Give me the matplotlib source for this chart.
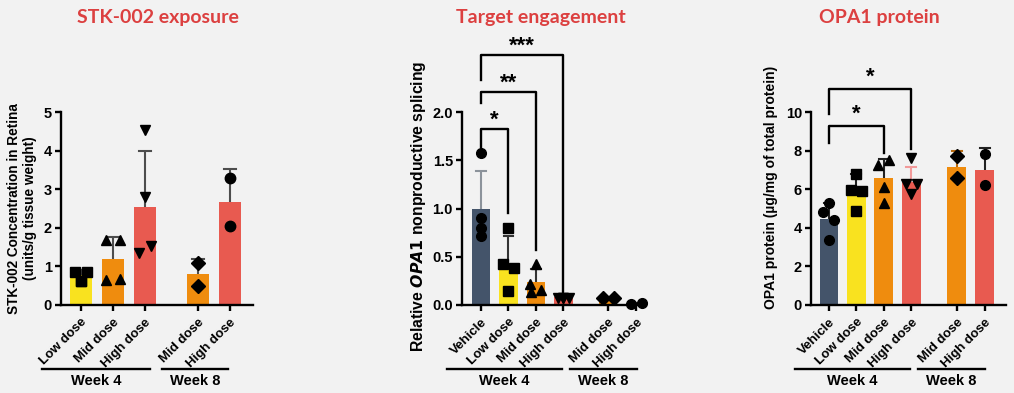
import matplotlib.pyplot as plt
import matplotlib.transforms as mtransforms
import numpy as np

# ---- data: STK-002 exposure ----
exp_labels = ["Low dose", "Mid dose", "High dose", "Mid dose", "High dose"]
exp_mean = [0.78, 1.18, 2.53, 0.80, 2.66]
exp_err_top = [0.90, 1.77, 3.99, 1.19, 3.52]
exp_points = [
    [0.86, 0.62, 0.86, 0.62],
    [1.68, 1.68, 0.66, 0.68],
    [4.54, 2.80, 1.36, 1.53],
    [1.08, 0.49],
    [3.28, 2.05],
]

# ---- data: target engagement ----
te_labels = ["Vehicle", "Low dose", "Mid dose", "High dose", "Mid dose", "High dose"]
te_mean = [1.00, 0.44, 0.24, 0.08, 0.07, 0.015]
te_err_top = [1.39, 0.71, 0.37, 0.09, 0.08, 0.02]
te_points = [
    [1.58, 0.90, 0.80, 0.72],
    [0.80, 0.42, 0.38, 0.15],
    [0.42, 0.22, 0.13, 0.16],
    [0.075, 0.07, 0.07, 0.075],
    [0.07, 0.07],
    [0.01, 0.02],
]

# ---- data: OPA1 protein ----
op_labels = ["Vehicle", "Low dose", "Mid dose", "High dose", "Mid dose", "High dose"]
op_mean = [4.47, 6.13, 6.56, 6.36, 7.16, 7.01]
op_err_top = [5.29, 6.80, 7.56, 7.16, 7.99, 8.13]
op_points = [
    [4.81, 5.27, 4.42, 3.35],
    [5.96, 6.79, 5.89, 4.86],
    [7.27, 7.53, 6.10, 5.27],
    [7.60, 6.27, 6.27, 5.76],
    [7.73, 6.58],
    [7.82, 6.24],
]

BG = "#f2f2f2"
NAVY = "#44546a"
YEL = "#f9e21f"
ORA = "#ef8c0e"
RED = "#e85a50"
TITLE_C = "#dc4040"

plt.rcParams["font.family"] = ["Liberation Sans", "DejaVu Sans"]
plt.rcParams["font.weight"] = "bold"


def draw_panel(ax, pos, means, err_top, points, colors, markers, offsets,
               err_colors, ms):
    ax.bar(pos, means, width=0.68, color=colors, zorder=2)
    for x, m, e, ec in zip(pos, means, err_top, err_colors):
        ax.plot([x, x], [m, e], color=ec, lw=1.5, zorder=2.5,
                solid_capstyle="butt")
        ax.plot([x - 0.18, x + 0.18], [e, e], color=ec, lw=1.5, zorder=2.5)
    for x, pts, mk, offs in zip(pos, points, markers, offsets):
        xs = [x + o for o in offs[:len(pts)]]
        ax.plot(xs, pts, ls="none", marker=mk, color="black", ms=ms,
                zorder=3, clip_on=False)
    ax.set_facecolor(BG)
    for s in ["top", "right"]:
        ax.spines[s].set_visible(False)
    for s in ["left", "bottom"]:
        ax.spines[s].set_linewidth(1.7)
    ax.tick_params(axis="both", width=1.7, length=4.5, labelsize=10.5)
    ax.tick_params(axis="y", pad=2)
    ax.set_xticks(pos)


def draw_groups(fig, ax, spans, names):
    tr = mtransforms.blended_transform_factory(ax.transData, fig.transFigure)
    for (a, b), name in zip(spans, names):
        ax.plot([a, b], [0.061, 0.061], color="black", lw=1.7,
                transform=tr, clip_on=False)
        ax.text((a + b) / 2, 0.030, name, transform=tr, ha="center",
                va="center", fontsize=10.5, fontweight="bold")


def bracket(ax, x1, x2, ytop, yl, yr, stars, sy):
    ax.plot([x1, x1, x2, x2], [yl, ytop, ytop, yr], color="black", lw=1.7,
            clip_on=False)
    ax.text((x1 + x2) / 2, sy, stars, ha="center", va="center",
            fontsize=16, fontweight="bold", clip_on=False)


fig = plt.figure(figsize=(10.14, 3.93), dpi=100, facecolor=BG)
W, H = 1014, 393

# ---------------- panel 1 ----------------
ax1 = fig.add_axes([61 / W, 88 / H, 192 / W, 193 / H])
pos1 = [0, 1, 2, 3.65, 4.65]
draw_panel(ax1, pos1, exp_mean, exp_err_top, exp_points,
           [YEL, ORA, RED, ORA, RED], ["s", "^", "v", "D", "o"],
           [[-0.2, 0, 0.2, 0], [-0.22, 0.22, -0.22, 0.22],
            [0, 0, -0.2, 0.2], [0, 0], [0, 0]],
           ["#4d4d4d"] * 5, 7.5)
ax1.set_xlim(-0.625, 5.375)
ax1.set_ylim(0, 5)
ax1.set_yticks([0, 1, 2, 3, 4, 5])
ax1.set_xticklabels(exp_labels, rotation=45, ha="right",
                    rotation_mode="anchor", fontsize=9.5)
ax1.set_ylabel("STK-002 Concentration in Retina\n(units/g tissue weight)",
               fontsize=9.8, fontweight="bold")
ax1.yaxis.set_label_coords(-0.125, 0.5)
draw_groups(fig, ax1, [(-1.22, 2.16), (2.53, 4.6)], ["Week 4", "Week 8"])

# ---------------- panel 2 ----------------
ax2 = fig.add_axes([462 / W, 88 / H, 184 / W, 265 / H])
pos2 = [0, 1, 2, 3, 4.62, 5.65]
draw_panel(ax2, pos2, te_mean, te_err_top, te_points,
           [NAVY, YEL, ORA, RED, ORA, RED], ["o", "s", "^", "v", "D", "o"],
           [[0, 0, 0, 0], [0, -0.2, 0.2, 0], [0, -0.2, -0.18, 0.2],
            [-0.2, 0, 0.2, 0], [-0.2, 0.2], [-0.2, 0.2]],
           ["#8c939b", "#333333", "#333333", "#333333", "#333333", "#333333"],
           7.0)
ax2.set_xlim(-0.69, 6.0)
ax2.set_ylim(0, 265 / 96.5)
ax2.set_yticks([0, 0.5, 1.0, 1.5, 2.0])
ax2.set_yticklabels(["0.0", "0.5", "1.0", "1.5", "2.0"])
ax2.spines["left"].set_bounds(0, 2.0)
ax2.set_xticklabels(te_labels, rotation=45, ha="right",
                    rotation_mode="anchor", fontsize=9.5)
ax2.set_ylabel(r"Relative $\bf{\it{OPA1}}$ nonproductive splicing",
               fontsize=11.3, fontweight="bold")
ax2.yaxis.set_label_coords(-0.185, 0.374)
bracket(ax2, pos2[0], pos2[1], 1.82, 1.64, 0.95, "*", 1.92)
bracket(ax2, pos2[0], pos2[2], 2.21, 2.09, 0.57, "**", 2.30)
bracket(ax2, pos2[0], pos2[3], 2.59, 2.33, 0.12, "***", 2.68)
draw_groups(fig, ax2, [(-1.24, 2.95), (3.24, 5.67)], ["Week 4", "Week 8"])

# ---------------- panel 3 ----------------
ax3 = fig.add_axes([811 / W, 88 / H, 195 / W, 193 / H])
pos3 = [0, 1, 2, 3, 4.65, 5.67]
draw_panel(ax3, pos3, op_mean, op_err_top, op_points,
           [NAVY, YEL, ORA, RED, ORA, RED], ["o", "s", "^", "v", "D", "o"],
           [[-0.2, 0, 0.2, 0], [-0.2, 0, 0.2, 0], [-0.2, 0.2, 0, 0],
            [0, -0.2, 0.2, 0], [0, 0], [0, 0]],
           ["#222222", "#222222", "#222222", "#f29a9a", "#b86a10", "#222222"],
           7.0)
ax3.set_xlim(-0.65, 6.45)
ax3.set_ylim(0, 10)
ax3.set_yticks([0, 2, 4, 6, 8, 10])
ax3.set_xticklabels(op_labels, rotation=45, ha="right",
                    rotation_mode="anchor", fontsize=9.5)
ax3.set_ylabel("OPA1 protein (µg/mg of total protein)",
               fontsize=10, fontweight="bold")
ax3.yaxis.set_label_coords(-0.17, 0.61)
bracket(ax3, pos3[0], pos3[2], 9.28, 8.38, 7.85, "*", 9.9)
bracket(ax3, pos3[0], pos3[3], 11.2, 9.88, 8.08, "*", 11.8)
draw_groups(fig, ax3, [(-1.24, 2.95), (3.24, 5.67)], ["Week 4", "Week 8"])

# ---------------- titles ----------------
for x, t in [(158, "STK-002 exposure"), (541, "Target engagement"),
             (879, "OPA1 protein")]:
    fig.text(x / W, 1 - 17 / H, t, ha="center", va="center", fontsize=14,
             fontweight="bold", color=TITLE_C, family=["Lato", "DejaVu Sans"])

plt.savefig("out.png", dpi=100, facecolor=BG)
plt.close(fig)
